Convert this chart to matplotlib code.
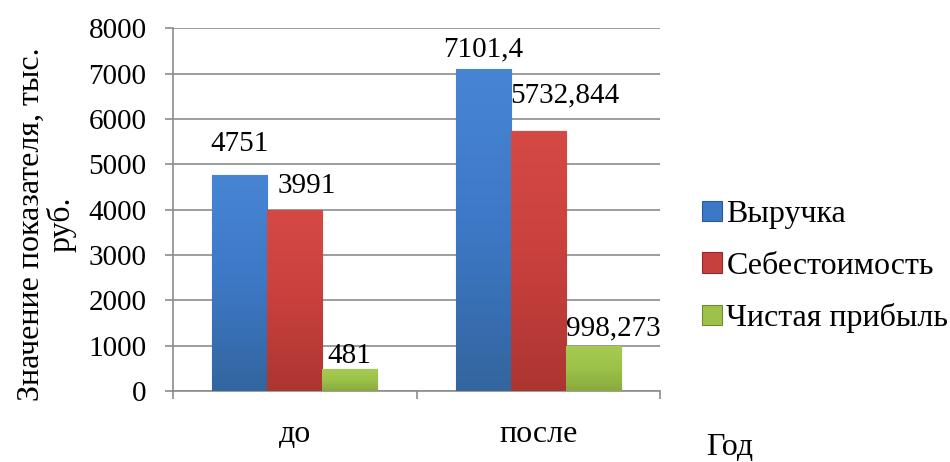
import numpy as np
import matplotlib
matplotlib.use('Agg')
import matplotlib.pyplot as plt
from matplotlib.colors import LinearSegmentedColormap

plt.rcParams['font.family'] = ['Liberation Serif', 'DejaVu Serif']

years = ['до', 'после']
series = ['Выручка', 'Себестоимость', 'Чистая прибыль']
revenue = [4751, 7101.4]
cost = [3991, 5732.844]
profit = [481, 998.273]
labels_rev = ['4751', '7101,4']
labels_cost = ['3991', '5732,844']
labels_prof = ['481', '998,273']

colors = ['#3d78c6', '#c8403d', '#9cc24a']
light = ['#4785d3', '#d54945', '#a6cb52']
dark = ['#33669f', '#ad3531', '#89aa3c']
edges = ['#2c5a96', '#8e2b29', '#6f8c30']
# label offsets in points (dx, dy), Excel put them a bit off-center
offs = [[(0, 13), (0, 5)], [(9, 8), (19, 16)], [(0, 0), (14, 3)]]
FS = 21   # digits
FT = 23   # cyrillic text

fig = plt.figure(figsize=(9.5, 4.62), dpi=100)
ax = fig.add_axes([0.182, 0.154, 0.513, 0.785])

x = np.arange(len(years))
w = 0.226
data = [revenue, cost, profit]
labs = [labels_rev, labels_cost, labels_prof]
grad = np.linspace(0, 1, 64).reshape(-1, 1)
for i in range(3):
    pos = x + (i - 1) * w
    bars = ax.bar(pos, data[i], w, color=colors[i], edgecolor=edges[i], linewidth=0.8,
                  label=series[i], zorder=3)
    cm = LinearSegmentedColormap.from_list('g%d' % i, [light[i], colors[i], dark[i]])
    for b in bars:
        im = ax.imshow(grad, cmap=cm, aspect='auto', zorder=3.5,
                       extent=(b.get_x(), b.get_x() + b.get_width(), 0, b.get_height()))
        im.set_clip_path(b)
    for j in range(len(years)):
        ax.annotate(labs[i][j], (pos[j], data[i][j]), xytext=offs[i][j],
                    textcoords='offset points', ha='center', va='bottom', fontsize=FS,
                    zorder=5)

ax.set_xlim(-0.5, 1.5)
ax.set_ylim(0, 8000)
ax.set_yticks(range(0, 8001, 1000))
ax.set_xticks([-0.5, 0.5, 1.5])
ax.set_xticklabels(['', '', ''])
ax.set_xticks(x, minor=True)
ax.set_xticklabels(years, minor=True, fontsize=FT)
ax.tick_params(axis='x', which='minor', length=0, pad=21)
ax.tick_params(axis='x', which='major', length=6, color='#8c8c8c', width=1.2)
ax.tick_params(axis='y', length=6, color='#8c8c8c', width=1.2, labelsize=FS, pad=13)
ax.grid(axis='y', color='#8c8c8c', linewidth=1.2, zorder=0)
for s in ['top', 'right']:
    ax.spines[s].set_visible(False)
for s in ['left', 'bottom']:
    ax.spines[s].set_color('#8c8c8c')
    ax.spines[s].set_linewidth(1.2)

fig.text(0.049, 0.515, 'Значение показателя, тыс.\nруб.', rotation=90, ha='center',
         va='center', fontsize=FT, linespacing=1.0, multialignment='center')
fig.text(0.768, 0.032, 'Год', ha='center', va='center', fontsize=FT)

ax.legend(loc='center left', bbox_to_anchor=(1.021, 0.342), frameon=False, fontsize=FT,
          handlelength=0.6, handleheight=0.6, handletextpad=0.15, labelspacing=0.7,
          borderaxespad=0.6)

fig.savefig('out.png', dpi=100)
